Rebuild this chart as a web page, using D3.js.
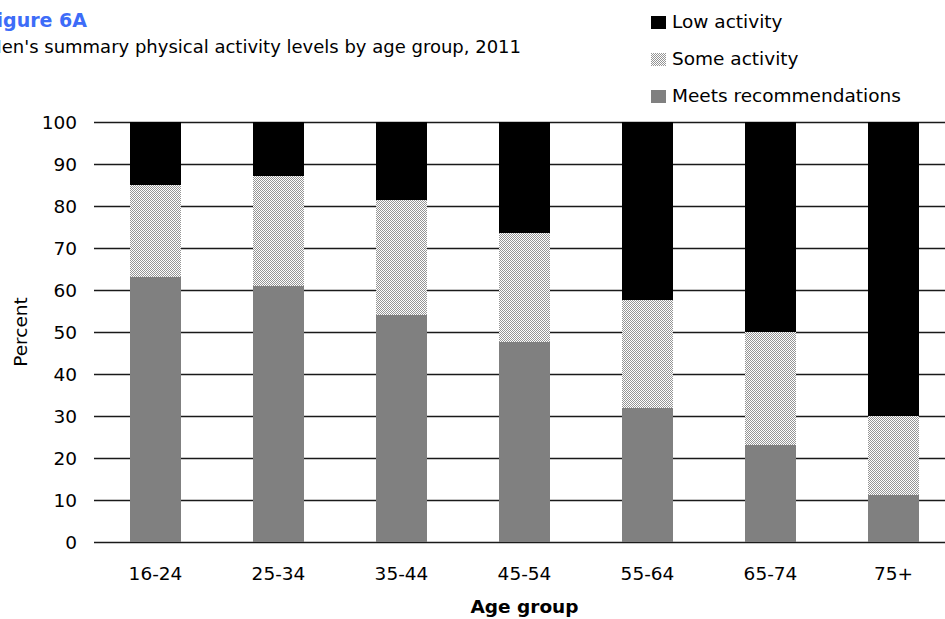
<!DOCTYPE html>
<html>
<head>
<meta charset="utf-8">
<script src="https://cdn.jsdelivr.net/npm/d3@7"></script>
<style>
  html, body { margin: 0; padding: 0; background: #fff; overflow: hidden; }
  svg { display: block; font-family: "DejaVu Sans", Verdana, sans-serif; }
</style>
</head>
<body>
<svg id="chart" width="945" height="619"></svg>
<script>
// Age groups and percentage shares (men, 2011)
const ageGroups = ["16-24", "25-34", "35-44", "45-54", "55-64", "65-74", "75+"];
const meetsRecommendations = [63, 61, 54, 47.7, 32, 23, 11.2];
const someActivity = [22, 26.2, 27.4, 25.8, 25.6, 26.9, 18.8];
const lowActivity = [15, 12.8, 18.6, 26.5, 42.4, 50.1, 70];
const yTicks = [0, 10, 20, 30, 40, 50, 60, 70, 80, 90, 100];
const seriesNames = ["Meets recommendations", "Some activity", "Low activity"];

const svg = d3.select("#chart");
const W = 945, H = 619;

// fine checker fill for the middle segment
const defs = svg.append("defs");
const pat = defs.append("pattern")
  .attr("id", "hatch").attr("patternUnits", "userSpaceOnUse")
  .attr("width", 2).attr("height", 2);
pat.append("rect").attr("width", 2).attr("height", 2).attr("fill", "#ffffff");
pat.append("rect").attr("x", 0).attr("y", 0).attr("width", 1).attr("height", 1).attr("fill", "#959595");
pat.append("rect").attr("x", 1).attr("y", 1).attr("width", 1).attr("height", 1).attr("fill", "#959595");

const fills = {
  "Meets recommendations": "#808080",
  "Some activity": "url(#hatch)",
  "Low activity": "#000000"
};

const plot = { left: 94, right: 955, top: 122, bottom: 542 };

const x = d3.scaleBand()
  .domain(ageGroups)
  .range([plot.left, plot.right])
  .paddingInner(0.59)
  .paddingOuter(0.295);

const y = d3.scaleLinear().domain([0, 100]).range([plot.bottom, plot.top]);

// gridlines
svg.append("g")
  .selectAll("line")
  .data(yTicks)
  .join("line")
  .attr("x1", plot.left).attr("x2", W)
  .attr("y1", d => Math.round(y(d)) + 0.5).attr("y2", d => Math.round(y(d)) + 0.5)
  .attr("stroke", "#1a1a1a").attr("stroke-width", 1.6);

// stacked bars
const rows = ageGroups.map((g, i) => ({
  group: g,
  "Meets recommendations": meetsRecommendations[i],
  "Some activity": someActivity[i],
  "Low activity": lowActivity[i]
}));
const stacked = d3.stack().keys(seriesNames)(rows);

svg.append("g")
  .selectAll("g")
  .data(stacked)
  .join("g")
  .attr("fill", d => fills[d.key])
  .selectAll("rect")
  .data(d => d)
  .join("rect")
  .attr("x", d => x(d.data.group))
  .attr("width", x.bandwidth())
  .attr("y", d => y(d[1]))
  .attr("height", d => y(d[0]) - y(d[1]))
  .attr("shape-rendering", "crispEdges");

// y axis labels
svg.append("g")
  .selectAll("text")
  .data(yTicks)
  .join("text")
  .attr("x", 77)
  .attr("y", d => y(d))
  .attr("dy", "0.36em")
  .attr("text-anchor", "end")
  .attr("font-size", 18.5)
  .attr("fill", "#000")
  .text(d => d);

// x axis labels
svg.append("g")
  .selectAll("text")
  .data(ageGroups)
  .join("text")
  .attr("x", d => x(d) + x.bandwidth() / 2)
  .attr("y", 580)
  .attr("text-anchor", "middle")
  .attr("font-size", 18.5)
  .attr("fill", "#000")
  .text(d => d);

// axis titles
svg.append("text")
  .attr("transform", "translate(27,332) rotate(-90)")
  .attr("text-anchor", "middle")
  .attr("font-size", 18.5)
  .text("Percent");

svg.append("text")
  .attr("x", (plot.left + plot.right) / 2)
  .attr("y", 613)
  .attr("text-anchor", "middle")
  .attr("font-size", 18.5)
  .attr("font-weight", "bold")
  .text("Age group");

// titles (the page crops their left ends)
svg.append("text")
  .attr("x", 87).attr("y", 27)
  .attr("text-anchor", "end")
  .attr("font-size", 19)
  .attr("font-weight", "bold")
  .attr("fill", "#3d6cf8")
  .text("Figure 6A");

svg.append("text")
  .attr("x", 521).attr("y", 53)
  .attr("text-anchor", "end")
  .attr("font-size", 18)
  .attr("fill", "#000")
  .text("Men's summary physical activity levels by age group, 2011");

// legend
const legendItems = ["Low activity", "Some activity", "Meets recommendations"];
const legend = svg.append("g")
  .selectAll("g")
  .data(legendItems)
  .join("g")
  .attr("transform", (d, i) => `translate(651,${28.3 + i * 36.7})`);
legend.append("rect")
  .attr("x", 0).attr("y", -12)
  .attr("width", 15).attr("height", 13)
  .attr("fill", d => fills[d])
  .attr("shape-rendering", "crispEdges");
legend.append("text")
  .attr("x", 21).attr("y", 0)
  .attr("font-size", 18.5)
  .text(d => d);
</script>
</body>
</html>
